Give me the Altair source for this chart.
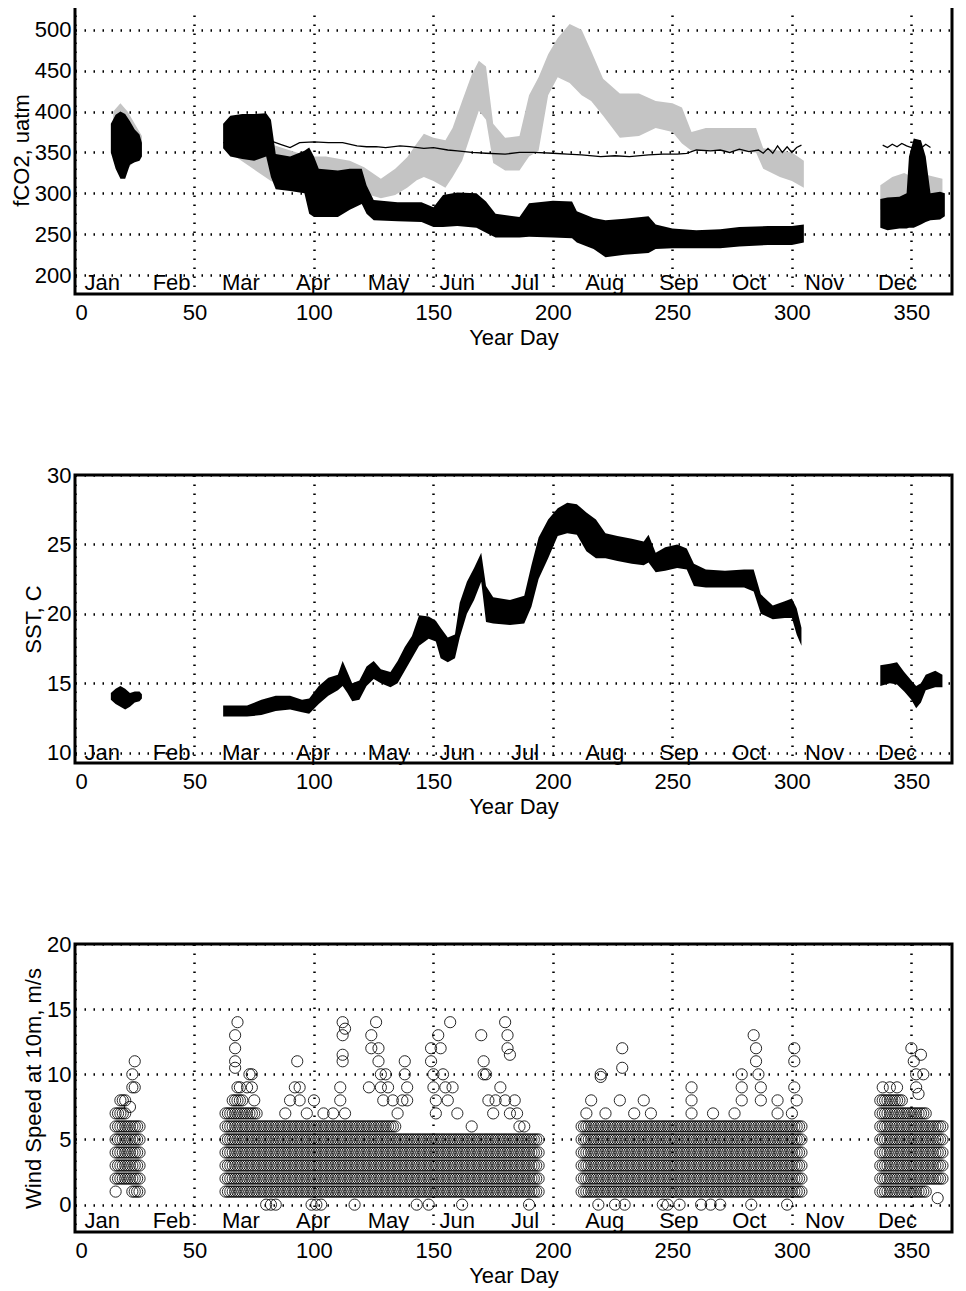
import altair as alt
import pandas as pd

# ---------------- fCO2 panel ----------------
# black band (envelope of the heavy markers): day, lower, upper, segment
blk_day = [15, 17, 19, 21, 23, 25, 27, 28,
           62, 65, 70, 75, 80, 82, 84, 90, 96, 98, 100, 102, 110, 115, 120, 122, 125, 135, 145, 150,
           154, 160, 168, 172, 176, 186, 190, 200, 208, 210, 217, 222, 230, 240, 243, 250, 260, 270,
           278, 290, 300, 305,
           337, 340, 345, 348, 349, 351, 354, 356, 358, 362, 364]
blk_lo = [350, 330, 318, 318, 335, 338, 340, 345,
          355, 345, 342, 340, 345, 320, 305, 303, 300, 275, 271, 271, 271, 280, 287, 275, 267, 266, 265, 259,
          259, 260, 258, 252, 246, 246, 247, 246, 245, 240, 232, 222, 225, 227, 232, 233, 233, 233,
          235, 237, 237, 240,
          258, 255, 257, 257, 258, 258, 262, 265, 267, 268, 272]
blk_hi = [385, 396, 400, 397, 388, 378, 372, 362,
          385, 395, 397, 397, 398, 390, 348, 345, 352, 356, 345, 330, 328, 330, 330, 310, 292, 289, 289, 283,
          298, 301, 300, 290, 275, 271, 288, 291, 290, 278, 270, 267, 269, 272, 262, 257, 255, 256,
          259, 260, 260, 262,
          293, 295, 296, 300, 345, 367, 365, 345, 300, 302, 300]
blk_seg = [1] * 8 + [2] * 42 + [3] * 11

# gray band
gry_day = [16, 19, 22, 25, 28,
           62, 82, 98, 105, 115, 121, 128, 134, 139, 143, 146, 150, 155, 158, 162, 166, 169, 172, 175, 180,
           186, 190, 194, 198, 202, 207, 212, 216, 221, 228, 236, 243, 250, 254, 258, 264, 275, 285, 288,
           295, 300, 305,
           337, 342, 347, 352, 357, 363]
gry_lo = [340, 330, 330, 340, 345,
          355, 315, 300, 305, 305, 300, 294, 298, 307, 316, 320, 315, 307, 320, 340, 375, 401, 390, 337, 328,
          328, 345, 352, 420, 442, 435, 420, 413, 395, 368, 370, 380, 375, 361, 352, 352, 352, 350, 330,
          320, 315, 307,
          280, 285, 288, 285, 290, 290]
gry_hi = [400, 410, 400, 385, 370,
          385, 360, 345, 345, 340, 332, 318, 330, 344, 361, 373, 368, 365, 380, 413, 445, 462, 455, 385, 368,
          370, 420, 442, 470, 490, 507, 500, 474, 440, 422, 422, 413, 410, 405, 375, 380, 380, 380, 355,
          352, 350, 340,
          310, 320, 325, 318, 322, 318]
gry_seg = [1] * 5 + [2] * 42 + [3] * 6

# thin line (atmospheric)
atm_day = [17, 22, 27,
           62, 70, 78, 82, 86, 90, 94, 100, 106, 112, 118, 122, 126, 130, 136, 140, 146, 150, 156, 160,
           166, 172, 180, 186, 192, 200, 206, 212, 220, 226, 232, 240, 246, 252, 256, 260, 266, 270, 274,
           278, 282, 286, 288, 290, 292, 294, 296, 298, 300, 302, 304,
           338, 340, 342, 344, 346, 348, 350, 352, 354, 356, 358]
atm_val = [362, 360, 358,
           362, 364, 362, 364, 360, 356, 362, 363, 362, 362, 358, 357, 357, 356, 358, 357, 355, 356, 353, 352,
           350, 349, 348, 350, 350, 349, 348, 347, 345, 346, 345, 347, 348, 348, 349, 353, 352, 353, 350,
           354, 351, 353, 349, 355, 349, 358, 350, 357, 350, 356, 359,
           359, 356, 360, 357, 361, 358, 356, 359, 355, 360, 356]
atm_seg = [1] * 3 + [2] * 51 + [3] * 11

# ---------------- SST panel ----------------
sst_day = [15, 17, 19, 21, 23, 25, 27, 28,
           62, 66, 72, 78, 84, 90, 95, 98, 102, 106, 110, 112, 114, 116, 119, 122, 125, 128, 132, 135,
           138, 141, 144, 148, 151, 153, 156, 159, 161, 164, 167, 170, 172, 175, 182, 188, 191, 194, 198,
           202, 206, 210, 214, 218, 222, 227, 233, 238, 240, 243, 247, 252, 256, 259, 264, 272, 280, 284,
           287, 292, 297, 300, 302, 304,
           337, 341, 344, 347, 350, 352, 354, 356, 360, 363]
sst_lo = [13.8, 13.5, 13.3, 13.1, 13.3, 13.6, 13.7, 13.9,
          12.6, 12.6, 12.6, 12.7, 13.0, 13.1, 12.9, 12.8, 13.5, 14.1, 14.5, 14.8, 14.3, 13.7, 13.8, 14.8,
          15.3, 15.0, 14.7, 15.0, 15.9, 16.8, 17.7, 18.2, 18.0, 16.8, 16.5, 16.8, 18.3, 20.0, 21.0, 22.3,
          19.4, 19.3, 19.2, 19.3, 20.5, 22.5, 24.0, 25.6, 25.8, 25.7, 24.5, 24.0, 24.0, 23.8, 23.6, 23.5,
          23.7, 23.0, 23.1, 23.3, 23.2, 22.0, 21.9, 21.9, 21.9, 21.6, 20.0, 19.6, 19.7, 19.7, 18.5, 17.7,
          14.8, 15.0, 14.9, 14.4, 13.8, 13.2, 13.6, 14.5, 14.7, 14.7]
sst_hi = [14.3, 14.6, 14.8, 14.6, 14.3, 14.4, 14.4, 14.2,
          13.4, 13.4, 13.4, 13.8, 14.1, 14.1, 13.8, 13.9, 14.8, 15.4, 15.6, 16.6, 15.8, 15.0, 15.2, 16.2,
          16.6, 16.0, 15.8, 16.6, 17.6, 18.4, 19.9, 19.8, 19.5, 19.0, 18.3, 18.5, 20.8, 22.3, 23.3, 24.4,
          22.0, 21.2, 21.0, 21.3, 23.5, 25.5, 26.8, 27.6, 28.0, 27.9, 27.3, 26.8, 25.8, 25.6, 25.4, 25.2,
          25.7, 24.4, 24.8, 25.0, 24.7, 23.6, 23.2, 23.1, 23.2, 23.2, 21.4, 20.6, 20.9, 21.1, 20.4, 19.0,
          16.3, 16.4, 16.5, 15.8, 15.2, 14.8, 15.0, 15.6, 15.9, 15.6]
sst_seg = [1] * 8 + [2] * 64 + [3] * 10

# ---------------- Wind panel ----------------
# bands of hourly circles: first day, last day, lowest and highest speed row (m/s)
wnd_start = [17, 19, 22, 24, 63, 67, 71, 77, 96, 122, 135, 161, 177, 212, 233, 246, 337, 347, 357]
wnd_end = [18, 21, 23, 27, 66, 70, 76, 95, 121, 134, 160, 176, 194, 232, 245, 304, 346, 356, 363]
wnd_low = [2, 2, 2, 1, 1, 1, 1, 1, 1, 1, 1, 1, 1, 1, 1, 1, 1, 1, 2]
wnd_high = [7, 8, 6, 6, 7, 8, 7, 6, 6, 6, 5, 5, 5, 6, 6, 6, 8, 7, 6]
# isolated circles outside the bands
out_day = [17, 23, 24, 24, 25, 25,
           66, 67, 67, 67, 67, 68, 68, 69, 72, 73, 74, 74, 75, 80, 82, 84, 88, 90, 92, 93, 94, 94, 97,
           99, 101, 103, 100, 104, 108, 111, 111, 112, 112, 112, 112, 113, 113, 117, 123, 124, 124, 126,
           127, 127, 128, 128, 129, 130, 131, 133, 135, 137, 138, 138, 139, 139, 143, 148, 149, 149, 150,
           150, 151, 151, 152, 153, 154, 155, 156, 157, 158, 160, 162, 166, 170, 171, 171, 172, 173, 175,
           176, 178, 180, 181, 181, 182, 180, 182, 184, 185, 186, 188, 190,
           214, 216, 219, 220, 220, 222, 226, 228, 229, 229, 230, 234, 238, 241, 246, 248, 253, 258, 258,
           258, 262, 266, 267, 270, 276, 279, 279, 279, 283, 284, 285, 285, 286, 287, 287, 294, 294, 298,
           300, 301, 301, 301, 302,
           338, 341, 344, 350, 351, 352, 352, 353, 354, 355, 361]
out_spd = [1, 7.5, 9, 10, 11, 9,
           8, 10.5, 11, 12, 13, 14, 9, 9, 9, 10, 10, 9, 8, 0, 0, 0, 7, 8, 9, 11, 9, 8, 7,
           0, 0, 0, 8, 7, 7, 8, 9, 11, 11.5, 13, 14, 13.5, 7, 0, 9, 12, 13, 14,
           12, 11, 10, 9, 8, 10, 9, 8, 7, 8, 11, 10, 9, 8, 0, 0, 12, 11, 10,
           9, 8, 7, 13, 12, 10, 9, 8, 14, 9, 7, 0, 6, 13, 11, 10, 10, 8, 7,
           8, 9, 14, 13, 12, 11.5, 8, 7, 8, 7, 6, 6, 0,
           7, 8, 0, 10, 9.8, 7, 0, 8, 12, 10.5, 0, 7, 8, 7, 0, 0, 0, 9, 8,
           7, 0, 0, 7, 0, 7, 10, 9, 8, 0, 13, 12, 11, 10, 9, 8, 8, 7, 0,
           7, 12, 11, 9, 8,
           9, 9, 9, 12, 11, 10, 9, 8.5, 11.5, 10, 0.5]

# ---------------- common ----------------
month_name = ["Jan", "Feb", "Mar", "Apr", "May", "Jun", "Jul", "Aug", "Sep", "Oct", "Nov", "Dec"]
month_day = [4, 32.5, 61.5, 92.5, 122.5, 152.5, 182.5, 213.5, 244.5, 275, 305.5, 336]
x_ticks = [0, 50, 100, 150, 200, 250, 300, 350]
fco2_ticks = [200, 250, 300, 350, 400, 450, 500]
sst_ticks = [10, 15, 20, 25, 30]
wind_ticks = [0, 5, 10, 15, 20]

W, H = 877, 288
FONT = "Liberation Sans"
FS = 22

blk = pd.DataFrame({"day": blk_day, "lo": blk_lo, "hi": blk_hi, "seg": blk_seg})
gry = pd.DataFrame({"day": gry_day, "lo": gry_lo, "hi": gry_hi, "seg": gry_seg})
atm = pd.DataFrame({"day": atm_day, "val": atm_val, "seg": atm_seg})
sst = pd.DataFrame({"day": sst_day, "lo": sst_lo, "hi": sst_hi, "seg": sst_seg})

wrows = []
for s, e, lo, hi in zip(wnd_start, wnd_end, wnd_low, wnd_high):
    for d in range(s, e + 1):
        for v in range(lo, hi + 1):
            wrows.append({"day": d, "spd": v})
for d, v in zip(out_day, out_spd):
    wrows.append({"day": d, "spd": v})
wnd = pd.DataFrame(wrows)

xs = alt.Scale(domain=[0, 367], nice=False, zero=False)
xax = alt.Axis(values=x_ticks, title="Year Day", format="d",
               titleY=50, titleBaseline="alphabetic", labelPadding=8)


def months(yval):
    return pd.DataFrame({"day": month_day, "name": month_name, "y": [yval] * 12})


def month_layer(yval, ysc):
    return alt.Chart(months(yval)).mark_text(
        align="left", baseline="alphabetic", font=FONT, fontSize=FS, color="black"
    ).encode(
        x=alt.X("day:Q", scale=xs, axis=xax),
        y=alt.Y("y:Q", scale=ysc),
        text="name:N",
    )


# panel 1
ys1 = alt.Scale(domain=[177, 529], nice=False, zero=False)
yax1 = alt.Axis(values=fco2_ticks, title="fCO2, uatm")
g1 = alt.Chart(gry).mark_area(color="#c4c4c4", clip=True).encode(
    x=alt.X("day:Q", scale=xs, axis=xax),
    y=alt.Y("lo:Q", scale=ys1, axis=yax1),
    y2="hi:Q",
    detail="seg:N",
)
l1 = alt.Chart(atm).mark_line(color="black", strokeWidth=1.3, clip=True).encode(
    x=alt.X("day:Q", scale=xs, axis=xax),
    y=alt.Y("val:Q", scale=ys1, axis=yax1),
    detail="seg:N",
)
b1 = alt.Chart(blk).mark_area(color="black", clip=True).encode(
    x=alt.X("day:Q", scale=xs, axis=xax),
    y=alt.Y("lo:Q", scale=ys1, axis=yax1),
    y2="hi:Q",
    detail="seg:N",
)
p1 = alt.layer(g1, l1, b1, month_layer(182, ys1)).properties(width=W, height=H)

# panel 2
ys2 = alt.Scale(domain=[9.25, 30], nice=False, zero=False)
yax2 = alt.Axis(values=sst_ticks, title="SST, C")
b2 = alt.Chart(sst).mark_area(color="black", clip=True).encode(
    x=alt.X("day:Q", scale=xs, axis=xax),
    y=alt.Y("lo:Q", scale=ys2, axis=yax2),
    y2="hi:Q",
    detail="seg:N",
)
p2 = alt.layer(b2, month_layer(9.5, ys2)).properties(width=W, height=H)

# panel 3
ys3 = alt.Scale(domain=[-2.1, 20], nice=False, zero=False)
yax3 = alt.Axis(values=wind_ticks, title="Wind Speed at 10m, m/s")
c3 = alt.Chart(wnd).mark_point(
    shape="circle", filled=False, color="black", size=125, strokeWidth=1.0, opacity=0.85, clip=True
).encode(
    x=alt.X("day:Q", scale=xs, axis=xax),
    y=alt.Y("spd:Q", scale=ys3, axis=yax3),
)
p3 = alt.layer(c3, month_layer(-1.8, ys3)).properties(width=W, height=H)

SP = 181
chart = alt.vconcat(p1, p2, p3, spacing=SP, bounds="flush").properties(
    padding={"top": -4, "left": 0, "right": 0, "bottom": 0}
).configure_view(
    stroke="black", strokeWidth=3
).configure_axis(
    grid=True,
    gridColor="black",
    gridDash=[1.5, 7.5],
    gridWidth=2.5,
    gridOpacity=1,
    domain=False,
    ticks=False,
    labelFont=FONT,
    labelFontSize=FS,
    labelColor="black",
    titleFont=FONT,
    titleFontSize=FS,
    titleFontWeight="normal",
    titleColor="black",
    labelPadding=4,
    titlePadding=1,
).configure_concat(spacing=SP)

chart.save("out.html", embed_options={"renderer": "svg", "actions": False})
